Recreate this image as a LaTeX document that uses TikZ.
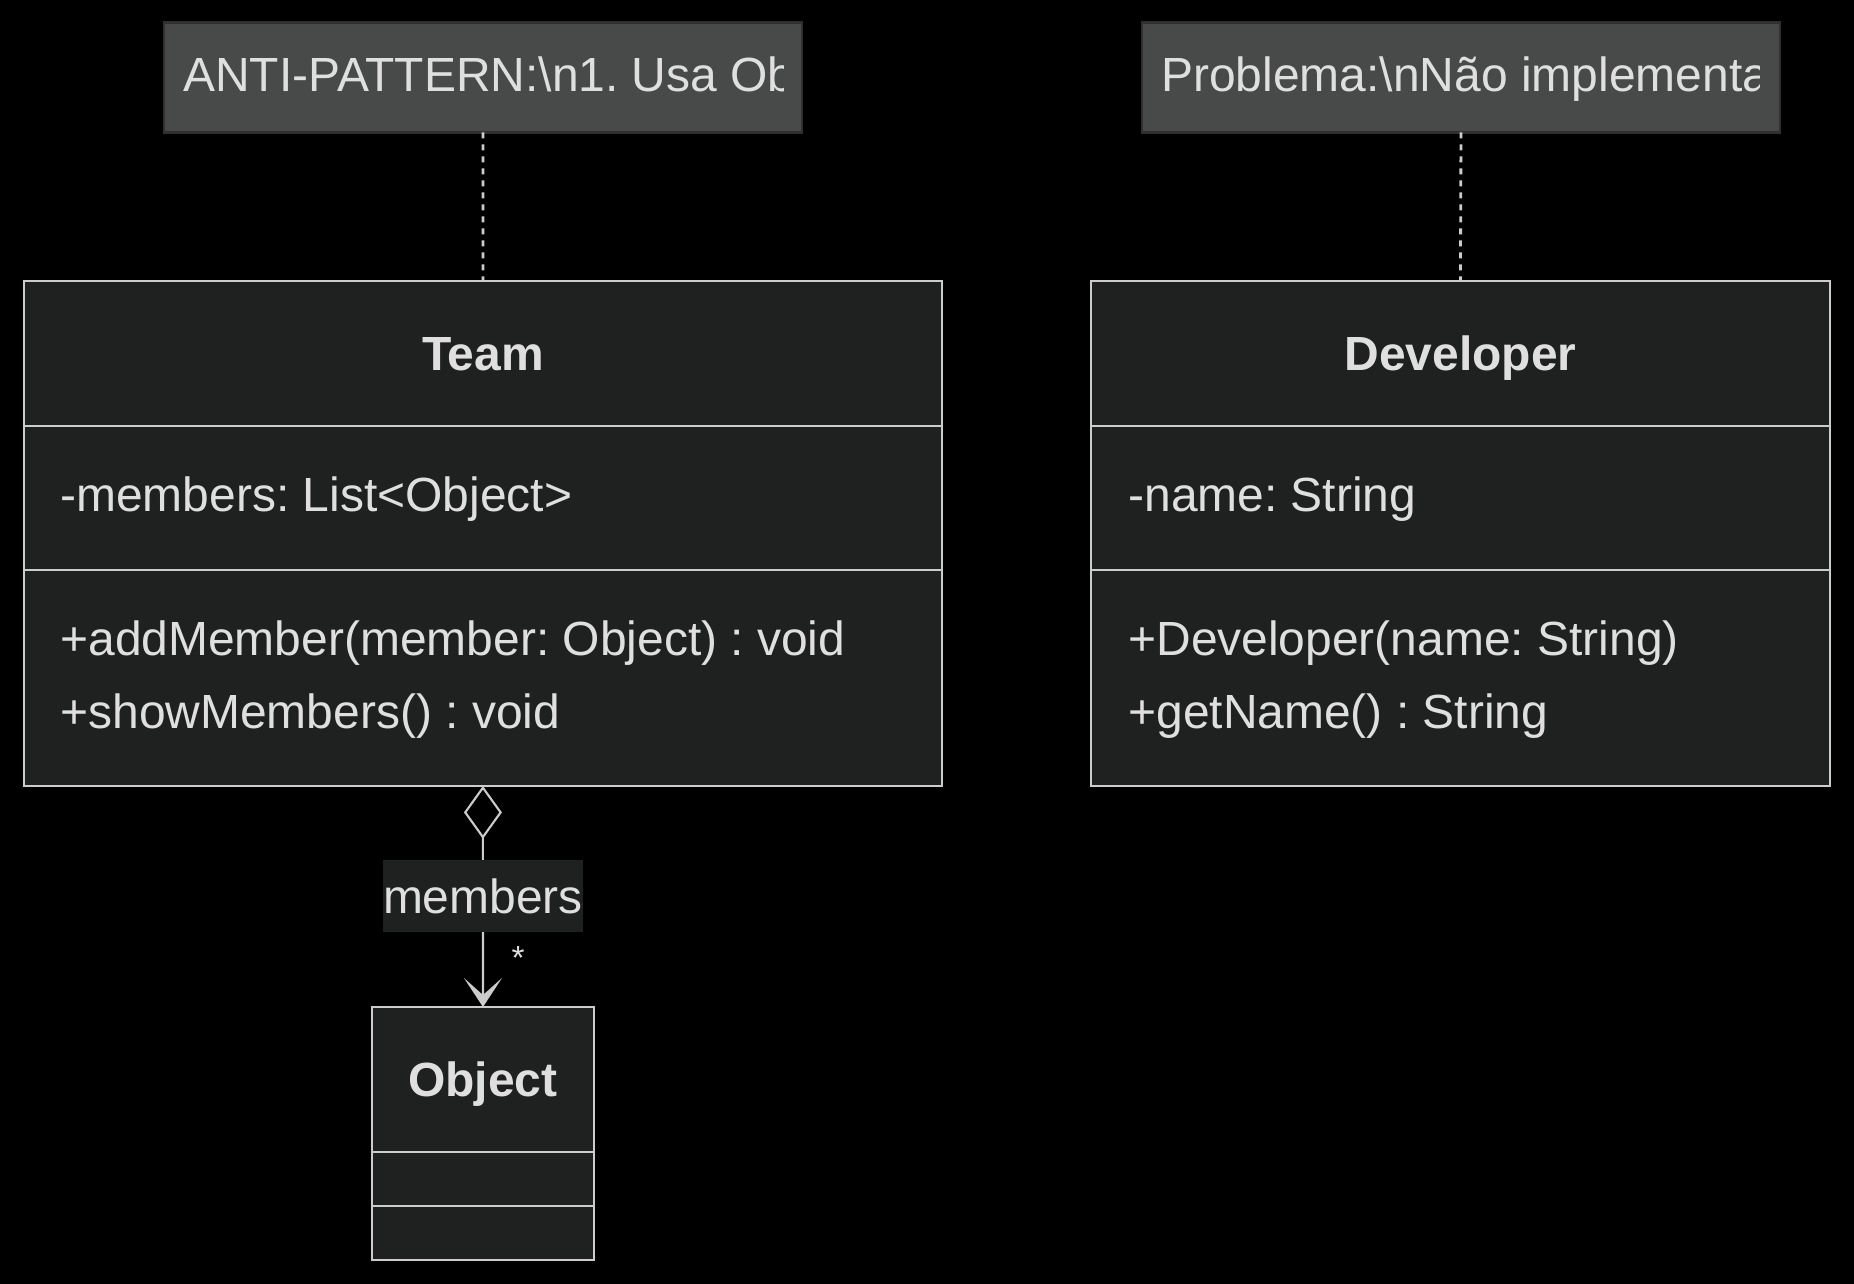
\documentclass[tikz,border=0pt]{standalone}
\usepackage{fontspec}
\setmainfont{Liberation Sans}
\usetikzlibrary{positioning, arrows.meta}
\frenchspacing

\begin{document}
\begin{tikzpicture}[x=0.02cm, y=-0.02cm,
        compart/.style={draw=mylines, fill=myboxfill, line width=1.5pt, inner sep=0pt, outer sep=0pt, anchor=north west},
        headtxt/.style={text=mytext, font=\fontsize{27.3}{33}\selectfont\bfseries, inner sep=0pt, text height=0.69cm, text depth=0pt},
        member/.style={anchor=base west, text=mytext, inner sep=0pt, font=\fontsize{27.3}{33}\selectfont},
        notebox/.style={draw=mynotedraw, fill=mynotefill, line width=1.5pt, minimum width=12.76cm, minimum height=2.2cm, inner sep=0pt, outer sep=0pt},
        notelink/.style={draw=mylines, line width=1.6pt, dash pattern=on 0.12cm off 0.12cm},
        aggr/.style={draw=mylines, line width=1.2pt, {Diamond[open, length=1.06cm, width=0.76cm]}-{Stealth[length=0.58cm, width=0.76cm, inset=0.34cm]}},
        lbl/.style={fill=myboxfill, text=mytext, inner xsep=0pt, inner ysep=0pt, minimum height=1.44cm, text height=0.69cm, text depth=0pt, font=\fontsize{27.3}{33}\selectfont}]
        % Colors
        \definecolor{mylines}{RGB}{204, 204, 204}
        \definecolor{myboxfill}{RGB}{31, 32, 32}
        \definecolor{mytext}{RGB}{224, 223, 223}
        \definecolor{mynotefill}{RGB}{72, 74, 74}
        \definecolor{mynotedraw}{RGB}{48, 48, 48}

        % Background
        \fill[black] (0,0) rectangle (1854,1284);

        % 1. Notes
        \node[notebox] (note1) at (483,77.5) {};
        \node[notebox] (note2) at (1461,77.5) {};
        \begin{scope}
            \clip (note1.north west) rectangle ([xshift=-0.36cm]note1.south east);
            \node[member] (note1txt) at (183,92) {ANTI-PATTERN:\textbackslash n1. Usa Ob};
        \end{scope}
        \begin{scope}
            \clip (note2.north west) rectangle ([xshift=-0.4cm]note2.south east);
            \node[member] (note2txt) at (1161,92) {Problema:\textbackslash nNão implementa};
        \end{scope}

        % 2. Class Team
        \node[compart, minimum width=18.36cm, minimum height=2.9cm] (teamhead) at (24,281) {};
        \node[headtxt] (teamname) at (teamhead.center) {Team};
        \node[compart, minimum width=18.36cm, minimum height=2.88cm, below=0pt of teamhead] (teamattr) {};
        \node[compart, minimum width=18.36cm, minimum height=4.32cm, below=0pt of teamattr] (teammeth) {};
        \node[member] (teama1) at (60,511) {-members: List<Object>};
        \foreach \txt [count=\i] in {{+addMember(member: Object) : void}, {+showMembers() : void}} {
            \node[member] (teamm\i) at (60, 582+73*\i) {\txt};
        }

        % 3. Class Developer
        \node[compart, minimum width=14.78cm, minimum height=2.9cm] (devhead) at (1091,281) {};
        \node[headtxt] (devname) at (devhead.center) {Developer};
        \node[compart, minimum width=14.78cm, minimum height=2.88cm, below=0pt of devhead] (devattr) {};
        \node[compart, minimum width=14.78cm, minimum height=4.32cm, below=0pt of devattr] (devmeth) {};
        \node[member] (deva1) at (1128,511) {-name: String};
        \foreach \txt [count=\i] in {{+Developer(name: String)}, {+getName() : String}} {
            \node[member] (devm\i) at (1128, 582+73*\i) {\txt};
        }

        % 4. Class Object
        \node[compart, minimum width=4.44cm, minimum height=2.9cm] (objhead) at (372,1007) {};
        \node[headtxt] (objname) at (objhead.center) {Object};
        \node[compart, minimum width=4.44cm, minimum height=1.08cm, below=0pt of objhead] (objattr) {};
        \node[compart, minimum width=4.44cm, minimum height=1.08cm, below=0pt of objattr] (objmeth) {};

        % 5. Links
        \draw[notelink] (note1.south) -- (teamhead.north);
        \draw[notelink] (note2.south) -- (devhead.north);
        \draw[aggr] (teammeth.south) -- node[lbl] (memberslbl) {members} (objhead.north);
        \node[anchor=base, text=mytext, inner sep=0pt, font=\fontsize{19}{22}\selectfont] (mult) at (518,969) {*};

    \end{tikzpicture}
\end{document}
